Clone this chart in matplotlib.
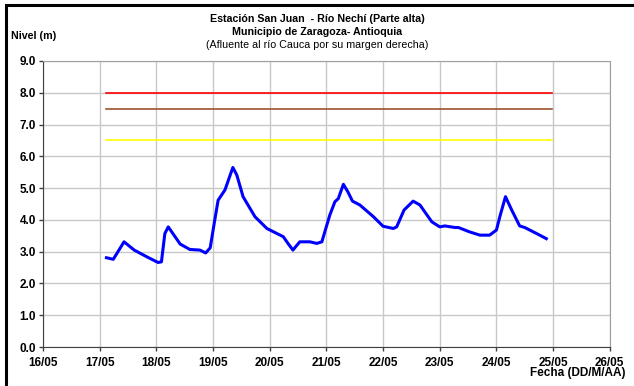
import matplotlib.pyplot as plt
from matplotlib.patches import Rectangle

plt.rcParams['font.family'] = ['Liberation Sans', 'DejaVu Sans']

# days counted from 16/05 00:00
dias = [1.12, 1.24, 1.43, 1.61, 1.83, 2.03, 2.09, 2.15, 2.21, 2.42, 2.59, 2.77,
        2.87, 2.95, 3.03, 3.09, 3.21, 3.35, 3.42, 3.53, 3.74, 3.95, 4.24, 4.33,
        4.41, 4.53, 4.71, 4.83, 4.92, 5.06, 5.15, 5.21, 5.30, 5.38, 5.46, 5.59,
        5.83, 6.00, 6.18, 6.24, 6.37, 6.53, 6.65, 6.86, 7.00, 7.09, 7.27, 7.33,
        7.53, 7.71, 7.88, 8.00, 8.06, 8.16, 8.27, 8.41, 8.50, 8.71, 8.88]
nivel = [2.81, 2.76, 3.31, 3.05, 2.84, 2.66, 2.68, 3.57, 3.78, 3.24, 3.07, 3.05,
         2.96, 3.12, 3.99, 4.62, 4.94, 5.65, 5.41, 4.73, 4.10, 3.73, 3.47, 3.24,
         3.05, 3.31, 3.31, 3.26, 3.31, 4.15, 4.57, 4.67, 5.12, 4.88, 4.59, 4.47,
         4.10, 3.80, 3.73, 3.78, 4.31, 4.59, 4.47, 3.94, 3.78, 3.81, 3.76, 3.76,
         3.62, 3.52, 3.52, 3.68, 4.10, 4.73, 4.31, 3.81, 3.76, 3.57, 3.41]

umbral_x = [1.12, 8.98]
umbral_rojo = 8.0
umbral_naranja = 7.5
umbral_amarillo = 6.5

fechas = ['16/05', '17/05', '18/05', '19/05', '20/05', '21/05',
          '22/05', '23/05', '24/05', '25/05', '26/05']

fig = plt.figure(figsize=(6.34, 3.86), dpi=100)
ax = fig.add_axes([0.0678, 0.101, 0.894, 0.741])

ax.plot(umbral_x, [umbral_rojo] * 2, color='#ff0000', lw=1.2)
ax.plot(umbral_x, [umbral_naranja] * 2, color='#a0522d', lw=1.2)
ax.plot(umbral_x, [umbral_amarillo] * 2, color='#ffff00', lw=1.2)
ax.plot(dias, nivel, color='#0000ff', lw=2.2, solid_joinstyle='round')

ax.set_xlim(0, 10)
ax.set_ylim(0, 9)
ax.set_xticks(range(11))
ax.set_xticklabels(fechas)
ax.set_yticks(range(10))
ax.set_yticklabels([f'{v:.1f}' for v in range(10)])
ax.grid(True, color='#c8c8c8', lw=1.0)
ax.set_axisbelow(True)
ax.tick_params(labelsize=8.5, length=3, width=1, color='#404040', pad=2)
ax.tick_params(axis='x', pad=4)
for lab in ax.get_xticklabels() + ax.get_yticklabels():
    lab.set_fontweight('bold')
for s in ['left', 'bottom']:
    ax.spines[s].set_color('#404040')
for s in ['top', 'right']:
    ax.spines[s].set_color('#a0a0a0')

fig.text(0.5, 0.951, 'Estación San Juan  - Río Nechí (Parte alta)', ha='center',
         va='center', fontsize=7.7, fontweight='bold')
fig.text(0.5, 0.917, 'Municipio de Zaragoza- Antioquia', ha='center',
         va='center', fontsize=7.7, fontweight='bold')
fig.text(0.5, 0.883, '(Afluente al río Cauca por su margen derecha)', ha='center',
         va='center', fontsize=7.7)
fig.text(0.018, 0.907, 'Nivel (m)', ha='left', va='center', fontsize=7.7,
         fontweight='bold')
fig.text(0.986, 0.033, 'Fecha (DD/M/AA)', ha='right', va='center', fontsize=8.5,
         fontweight='bold')

fig.patches.append(Rectangle((0.009, -0.1), 1.2, 1.087, transform=fig.transFigure,
                             fill=False, edgecolor='black', lw=2.2))

fig.savefig('out.png', dpi=100)
